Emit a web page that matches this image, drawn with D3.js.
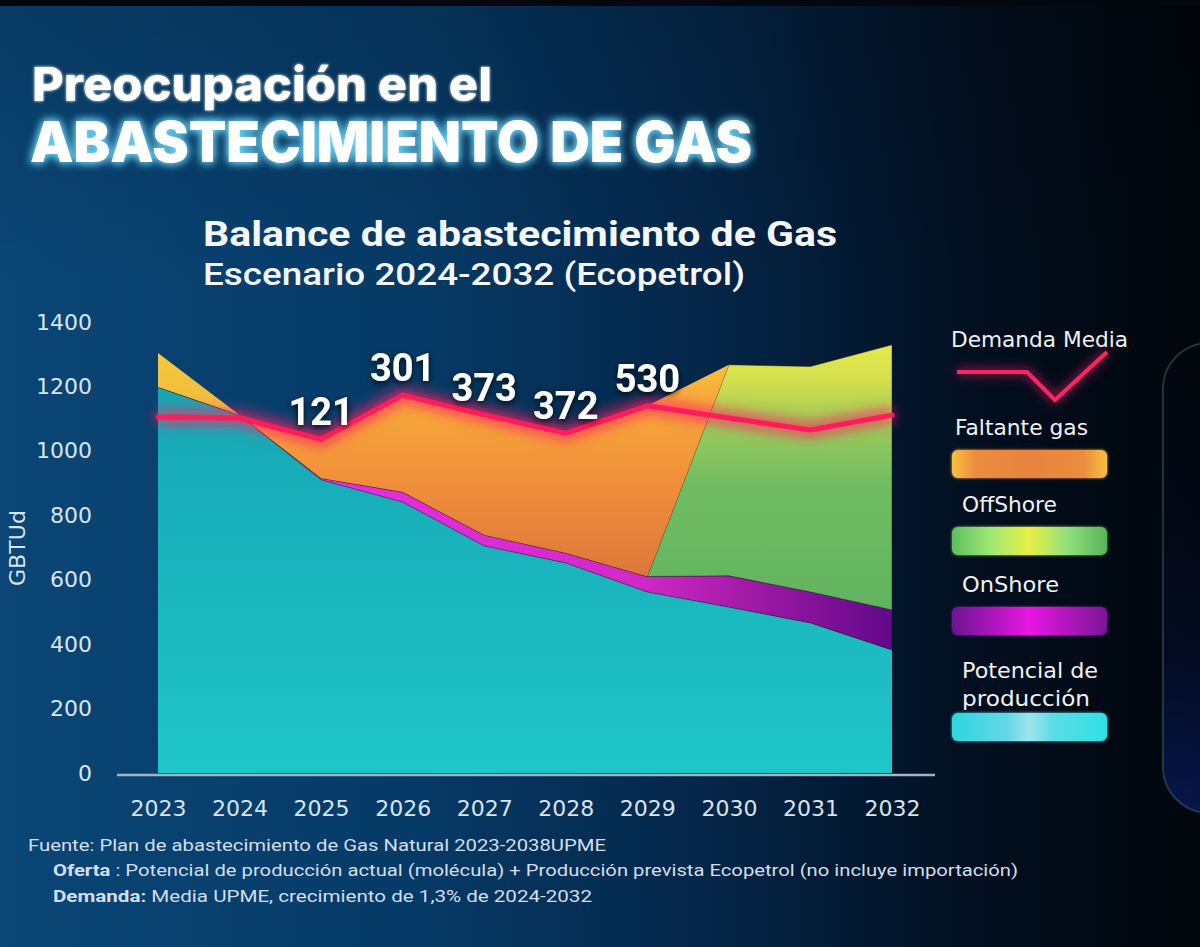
<!DOCTYPE html>
<html>
<head>
<meta charset="utf-8">
<script src="https://cdn.jsdelivr.net/npm/d3@7"></script>
<style>
	body { margin: 0; background: #020810; }
	svg { display: block; }
</style>
</head>
<body>
<div id="chart"></div>
<script>
// Data (GBTUd)
var years = [2023, 2024, 2025, 2026, 2027, 2028, 2029, 2030, 2031, 2032];
var produccion = [1198, 1111, 910, 841, 705, 652, 562, 515, 466, 382];
var onShore = [0, 0, 5, 31, 34, 31, 48, 97, 96, 124];
var offShore = [0, 0, 0, 0, 0, 0, 0, 655, 700, 823];
var faltante = [0, 0, 121, 301, 373, 372, 530, 0, 0, 0];
var excedente = [106, 0, 0, 0, 0, 0, 0, 0, 0, 0];
var demanda = [1105, 1102, 1036, 1173, 1112, 1055, 1140, 1102, 1065, 1111];
var yTicks = [0, 200, 400, 600, 800, 1000, 1200, 1400];
var legendNames = ["Faltante gas", "OffShore", "OnShore", "Potencial de producción"];

var width = 1200,
		height = 947;

var svg = d3.select("#chart").append("svg")
		.attr("width", width)
		.attr("height", height);

var defs = svg.append("defs");

function linearGradient(id, x1, y1, x2, y2, stops, user) {
	var g = defs.append("linearGradient")
			.attr("id", id)
			.attr("x1", x1).attr("y1", y1)
			.attr("x2", x2).attr("y2", y2);
	if (user) g.attr("gradientUnits", "userSpaceOnUse");
	stops.forEach(function(s) {
		g.append("stop").attr("offset", s[0]).attr("stop-color", s[1]).attr("stop-opacity", s[2] == null ? 1 : s[2]);
	});
}

// Background
linearGradient("bg", "0%", "0%", "100%", "0%", [[0, "#0a4676"], [0.35, "#063a66"], [0.6, "#042547"], [0.82, "#020e1e"], [1, "#01060c"]]);
linearGradient("bgShade", "0%", "0%", "0%", "100%", [[0, "#000", 0.15], [0.3, "#000", 0], [1, "#000", 0]]);

// Area fills
linearGradient("gTeal", 0, 330, 0, 773, [[0, "#15a2b1"], [0.5, "#19b3bc"], [1, "#1fc6c8"]], true);
linearGradient("gOn", 320, 0, 892, 0, [[0, "#e82ee0"], [0.55, "#d22ac8"], [0.75, "#a11aa6"], [1, "#62088a"]], true);
linearGradient("gOff", 0, 345, 0, 620, [[0, "#e4ea4a"], [0.12, "#d6df4c"], [0.28, "#9fcb58"], [0.5, "#72bd62"], [1, "#60b260"]], true);
linearGradient("gFalt", 0, 350, 0, 620, [[0, "#f8cc3e"], [0.15, "#f8ae3b"], [0.45, "#f1923a"], [0.8, "#e07a3a"], [1, "#c9643a"]], true);
linearGradient("gExc", 0, 350, 0, 420, [[0, "#f6c93c"], [1, "#f0b83e"]], true);

// Legend swatches
linearGradient("lFalt", "0%", "0%", "100%", "0%", [[0, "#f8c03c"], [0.15, "#ec8d3d"], [0.5, "#e8843c"], [0.85, "#ec8d3d"], [1, "#f8c03c"]]);
linearGradient("lOff", "0%", "0%", "100%", "0%", [[0, "#5fbd5c"], [0.25, "#9fe874"], [0.5, "#e8ef45"], [0.75, "#8fe07a"], [1, "#58b25a"]]);
linearGradient("lOn", "0%", "0%", "100%", "0%", [[0, "#6a1292"], [0.5, "#e817e2"], [1, "#7a1296"]]);
linearGradient("lTeal", "0%", "0%", "100%", "0%", [[0, "#2ed6de"], [0.35, "#62d8e6"], [0.5, "#9fe3ee"], [0.65, "#5cdde6"], [1, "#2ee0e4"]]);

linearGradient("panel", "0%", "0%", "0%", "100%", [[0, "#0a1a40", 0], [0.6, "#0c1c70", 0.15], [1, "#1030b0", 0.4]]);

// Filters
var fTitle = defs.append("filter").attr("id", "glowTitle")
		.attr("x", "-10%").attr("y", "-40%").attr("width", "120%").attr("height", "180%");
fTitle.append("feGaussianBlur").attr("in", "SourceAlpha").attr("stdDeviation", 5).attr("result", "b");
fTitle.append("feFlood").attr("flood-color", "#72dcff").attr("flood-opacity", 0.9);
fTitle.append("feComposite").attr("in2", "b").attr("operator", "in").attr("result", "g");
var m1 = fTitle.append("feMerge");
m1.append("feMergeNode").attr("in", "g");
m1.append("feMergeNode").attr("in", "g");
m1.append("feMergeNode").attr("in", "SourceGraphic");

var fLine = defs.append("filter").attr("id", "glowLine")
		.attr("x", "-10%").attr("y", "-60%").attr("width", "120%").attr("height", "220%");
fLine.append("feGaussianBlur").attr("in", "SourceGraphic").attr("stdDeviation", 6).attr("result", "b");
var m2 = fLine.append("feMerge");
m2.append("feMergeNode").attr("in", "b");
m2.append("feMergeNode").attr("in", "SourceGraphic");

var fShadow = defs.append("filter").attr("id", "shadow")
		.attr("x", "-20%").attr("y", "-30%").attr("width", "140%").attr("height", "160%");
fShadow.append("feDropShadow").attr("dx", 0).attr("dy", 2).attr("stdDeviation", 3)
		.attr("flood-color", "#000").attr("flood-opacity", 0.85);

var fSoft = defs.append("filter").attr("id", "soft")
		.attr("x", "-10%").attr("y", "-40%").attr("width", "120%").attr("height", "180%");
fSoft.append("feGaussianBlur").attr("in", "SourceGraphic").attr("stdDeviation", 1.5).attr("result", "b");
var m3 = fSoft.append("feMerge");
m3.append("feMergeNode").attr("in", "b");
m3.append("feMergeNode").attr("in", "SourceGraphic");

svg.append("rect").attr("width", width).attr("height", height).attr("fill", "url(#bg)");
svg.append("rect").attr("width", width).attr("height", height).attr("fill", "url(#bgShade)");
svg.append("rect").attr("width", width).attr("height", 6).attr("fill", "#04080e");

// Side panel edge (next card)
svg.append("rect")
		.attr("x", 1163).attr("y", 343)
		.attr("width", 110).attr("height", 470)
		.attr("rx", 46)
		.attr("fill", "url(#panel)")
		.attr("stroke", "#4a6a78")
		.attr("stroke-opacity", 0.45)
		.attr("stroke-width", 2);

// Titles
svg.append("text")
		.attr("x", 32).attr("y", 101)
		.attr("textLength", 460).attr("lengthAdjust", "spacingAndGlyphs")
		.style("font", "800 47px Inter, 'DejaVu Sans', sans-serif")
		.style("fill", "#ffffff")
		.attr("filter", "url(#soft)")
		.text("Preocupación en el");

svg.append("text")
		.attr("x", 30).attr("y", 162)
		.attr("textLength", 722).attr("lengthAdjust", "spacingAndGlyphs")
		.style("font", "900 56px Inter, 'DejaVu Sans', sans-serif")
		.style("fill", "#ffffff")
		.attr("filter", "url(#glowTitle)")
		.text("ABASTECIMIENTO DE GAS");

svg.append("text")
		.attr("x", 203).attr("y", 246)
		.attr("textLength", 634).attr("lengthAdjust", "spacingAndGlyphs")
		.style("font", "700 35px Roboto, sans-serif")
		.style("fill", "#f4f6f8")
		.text("Balance de abastecimiento de Gas");

svg.append("text")
		.attr("x", 203).attr("y", 285)
		.attr("textLength", 542).attr("lengthAdjust", "spacingAndGlyphs")
		.style("font", "500 31px Roboto, sans-serif")
		.style("fill", "#f4f6f8")
		.text("Escenario 2024-2032 (Ecopetrol)");

// Scales
var x = d3.scaleLinear()
		.domain([years[0], years[years.length - 1]])
		.range([158, 892]);

var y = d3.scaleLinear()
		.domain([0, 1400])
		.range([773, 322]);

// Stack
var keys = ["produccion", "onShore", "offShore", "faltante", "excedente"];
var fills = {produccion: "url(#gTeal)", onShore: "url(#gOn)", offShore: "url(#gOff)", faltante: "url(#gFalt)", excedente: "url(#gExc)"};

var table = years.map(function(yr, i) {
	return {year: yr, produccion: produccion[i], onShore: onShore[i], offShore: offShore[i], faltante: faltante[i], excedente: excedente[i]};
});

var series = d3.stack().keys(keys)(table);

var area = d3.area()
		.x(function(d) { return x(d.data.year); })
		.y0(function(d) { return y(d[0]); })
		.y1(function(d) { return y(d[1]); });

var g = svg.append("g").attr("class", "chart-body");

g.selectAll(".layer")
	.data(series)
	.enter().append("path")
		.attr("class", "layer")
		.attr("d", area)
		.attr("fill", function(d) { return fills[d.key]; })
		.attr("stroke", function(d) { return d.key === "offShore" || d.key === "onShore" ? "rgba(40,20,40,0.45)" : "none"; })
		.attr("stroke-width", 1);

// Baseline
g.append("line")
		.attr("x1", x.range()[0] - 41).attr("x2", x.range()[1] + 43)
		.attr("y1", y(0) + 2).attr("y2", y(0) + 2)
		.attr("stroke", "#9fb4c6")
		.attr("stroke-width", 2.5);

// Axes
var yAxis = g.append("g")
		.attr("transform", "translate(100,0)")
		.call(d3.axisLeft(y).tickValues(yTicks).tickFormat(d3.format("d")).tickSize(0).tickPadding(8));
yAxis.select(".domain").remove();
yAxis.selectAll("text")
		.style("font", "22px 'DejaVu Sans', sans-serif")
		.style("fill", "#d8e4ef");

var xAxis = g.append("g")
		.attr("transform", "translate(0," + y(0) + ")")
		.call(d3.axisBottom(x).tickValues(years).tickFormat(d3.format("d")).tickSize(0).tickPadding(27));
xAxis.select(".domain").remove();
xAxis.selectAll("text")
		.style("font", "22px 'DejaVu Sans', sans-serif")
		.style("fill", "#d8e4ef");

svg.append("text")
		.attr("transform", "translate(25,548) rotate(-90)")
		.attr("text-anchor", "middle")
		.attr("textLength", 76).attr("lengthAdjust", "spacingAndGlyphs")
		.style("font", "21px 'DejaVu Sans', sans-serif")
		.style("fill", "#d8e4ef")
		.text("GBTUd");

// Demand line
var line = d3.line()
		.x(function(d, i) { return x(years[i]); })
		.y(function(d) { return y(d); });

g.append("path")
		.attr("d", line(demanda))
		.attr("fill", "none")
		.attr("stroke", "#ff2a6a")
		.attr("stroke-opacity", 0.45)
		.attr("stroke-width", 16)
		.attr("stroke-linejoin", "round")
		.style("filter", "blur(7px)");

g.append("path")
		.attr("d", line(demanda))
		.attr("fill", "none")
		.attr("stroke", "#ff1b5c")
		.attr("stroke-width", 5)
		.attr("stroke-linejoin", "round")
		.attr("stroke-linecap", "round")
		.attr("filter", "url(#glowLine)");

// Shortfall labels
g.selectAll(".label")
	.data(years.map(function(yr, i) { return {year: yr, value: faltante[i], demand: demanda[i]}; })
		.filter(function(d) { return d.value > 0; }))
	.enter().append("text")
		.attr("class", "label")
		.attr("x", function(d) { return x(d.year); })
		.attr("y", function(d) { return y(d.demand) - 14; })
		.attr("text-anchor", "middle")
		.attr("filter", "url(#shadow)")
		.style("font", "700 38px Roboto, sans-serif")
		.style("fill", "#ffffff")
		.text(function(d) { return d.value; });

// Legend
var legend = svg.append("g").attr("class", "legend");

legend.append("text")
		.attr("x", 951).attr("y", 347)
		.attr("textLength", 177).attr("lengthAdjust", "spacingAndGlyphs")
		.style("font", "21px 'DejaVu Sans', sans-serif")
		.style("fill", "#f2f2f4")
		.text("Demanda Media");

legend.append("path")
		.attr("d", d3.line()([[957, 372], [1027, 372], [1055, 400], [1107, 352]]))
		.attr("fill", "none")
		.attr("stroke", "#ff2468")
		.attr("stroke-width", 4)
		.attr("stroke-linejoin", "round")
		.attr("filter", "url(#glowLine)");

var legendLayout = [
	{lines: [435], lengths: [133], x: 955, swatch: 450, fill: "url(#lFalt)"},
	{lines: [512], lengths: [95], x: 962, swatch: 527, fill: "url(#lOff)"},
	{lines: [592], lengths: [97], x: 962, swatch: 607, fill: "url(#lOn)"},
	{lines: [678, 706], lengths: [136, 128], x: 962, swatch: 713, fill: "url(#lTeal)"}
];

var legendGroup = legend.selectAll(".legend-group")
	.data(legendNames)
	.enter().append("g")
		.attr("class", "legend-group");

legendGroup.each(function(name, i) {
	var el = d3.select(this),
			lay = legendLayout[i],
			parts = lay.lines.length > 1 ? [name.split(" ").slice(0, 2).join(" "), name.split(" ").slice(2).join(" ")] : [name];
	parts.forEach(function(p, j) {
		el.append("text")
				.attr("x", lay.x).attr("y", lay.lines[j])
				.attr("textLength", lay.lengths[j]).attr("lengthAdjust", "spacingAndGlyphs")
				.style("font", "21px 'DejaVu Sans', sans-serif")
				.style("fill", "#f2f2f4")
				.text(p);
	});
	el.append("rect")
			.attr("x", 952).attr("y", lay.swatch)
			.attr("width", 155).attr("height", 28)
			.attr("rx", 6)
			.attr("fill", lay.fill)
			.attr("filter", "url(#soft)");
});

// Footnotes
var notes = svg.append("g").attr("class", "notes")
		.style("font", "16px Roboto, sans-serif")
		.style("fill", "#d3deea");

notes.append("text")
		.attr("x", 28).attr("y", 851)
		.attr("textLength", 578).attr("lengthAdjust", "spacingAndGlyphs")
		.text("Fuente: Plan de abastecimiento de Gas Natural 2023-2038UPME");

var n2 = notes.append("text")
		.attr("x", 53).attr("y", 876)
		.attr("textLength", 965).attr("lengthAdjust", "spacingAndGlyphs");
n2.append("tspan").style("font-weight", 700).text("Oferta");
n2.append("tspan").text(" : Potencial de producción actual (molécula) + Producción prevista Ecopetrol (no incluye importación)");

var n3 = notes.append("text")
		.attr("x", 53).attr("y", 902)
		.attr("textLength", 539).attr("lengthAdjust", "spacingAndGlyphs");
n3.append("tspan").style("font-weight", 700).text("Demanda:");
n3.append("tspan").text(" Media UPME, crecimiento de 1,3% de 2024-2032");
</script>
</body>
</html>
